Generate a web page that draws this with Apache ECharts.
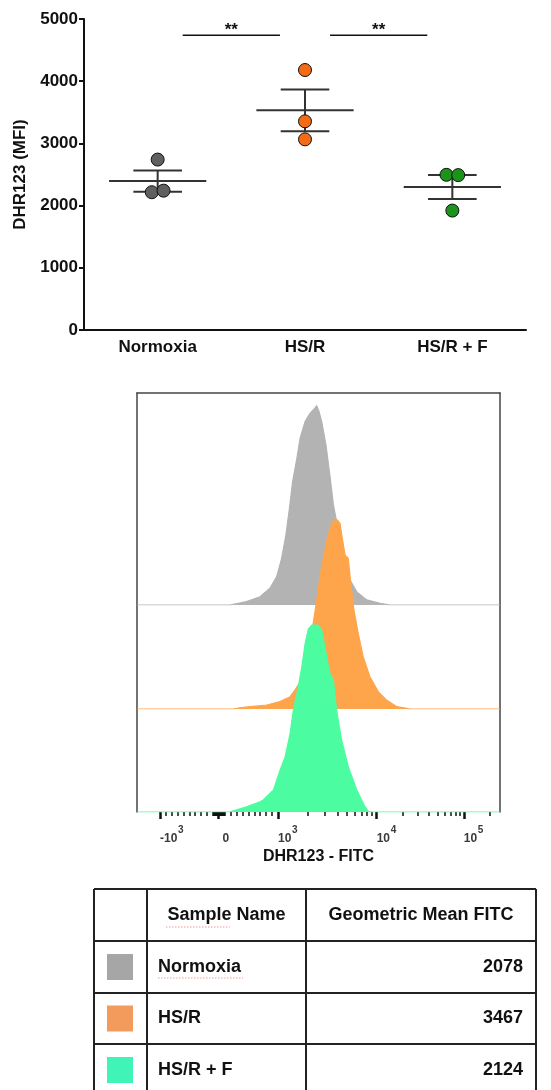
<!DOCTYPE html>
<html>
<head>
<meta charset="utf-8">
<script src="https://cdn.jsdelivr.net/npm/echarts@6/dist/echarts.min.js"></script>
<style>
  html, body { margin: 0; padding: 0; background: #fff; }
  #main { width: 551px; height: 1090px; }
</style>
</head>
<body>
<div id="main"></div>
<script>
// groups
var groups = ['Normoxia', 'HS/R', 'HS/R + F'];
// replicate MFI values per group
var normoxiaPts = [2740, 2215, 2240];
var hsrPts = [4180, 3355, 3065];
var hsrfPts = [2495, 2490, 1920];
// horizontal scatter of the dots inside each group (fraction of a category)
var jitter = [[0, -0.04, 0.04], [0, 0, 0], [-0.04, 0.04, 0]];
var means = [2395, 3532, 2300];
var sems = [171, 335, 193];
var sigPairs = [[0, 1], [1, 2]];
var sigLabels = ['**', '**'];
var sigLevel = 4740;
var dotColors = ['#606060', '#f26b15', '#1c941c'];

// histograms, x = display channel (0..1024), y = % of mode
var grayHist = [[0, 0], [262, 0], [267, 0.3], [309, 1.6], [347, 3.9], [375, 7.9], [394, 13.4], [408, 22], [420, 33], [430, 45.6], [439, 58.2], [451, 69.2], [460, 78.6], [474, 86.5], [488, 90.4], [500, 92.5], [507, 94], [514, 91], [521, 86.5], [533, 75.5], [544, 61.3], [554, 47.2], [573, 30.7], [587, 18.9], [601, 11.8], [620, 6.2], [648, 2.4], [686, 0.8], [714, 0], [1024, 0]];
var orangeHist = [[0, 0], [272, 0], [290, 0.6], [319, 1.1], [366, 1.9], [403, 3.5], [432, 5.8], [446, 9], [460, 12.7], [474, 19.3], [488, 30.2], [497, 40.4], [507, 51.4], [516, 62.4], [528, 73.4], [540, 82.8], [552, 88.4], [559, 89.6], [566, 89], [573, 87.5], [580, 79.6], [587, 72.6], [596, 71], [603, 59.3], [612, 46.7], [624, 35.7], [638, 24.7], [657, 15.2], [681, 8.1], [704, 4.2], [733, 1.1], [761, 0.3], [770, 0], [1024, 0]];
var greenHist = [[0, 0], [262, 0], [281, 1], [309, 2.5], [347, 4.8], [356, 5.7], [385, 10.4], [403, 19.5], [418, 26.1], [432, 37.1], [441, 48.1], [455, 59.1], [465, 68.5], [474, 79.2], [483, 86.2], [493, 88.2], [511, 88.2], [521, 85.8], [535, 73.3], [544, 65.4], [554, 62.3], [563, 48.1], [577, 34], [596, 21.4], [620, 10.4], [643, 2.5], [653, 0.2], [663, 0], [1024, 0]];
var histColors = ['#b3b3b3', '#fea54c', '#4cfca0'];

// biexponential display: channel of each labelled value
var anchorVals = [-1000, 0, 1000, 10000, 100000];
var anchorChan = [65, 230, 398, 676, 922];

// table
var geoMeans = [2078, 3467, 2124];
var swatchColors = ['#a6a6a6', '#f29b5d', '#40f4b8'];

var FONT = 'Liberation Sans, Arial, sans-serif';

function toChan(v) {
  if (Math.abs(v) < 1000) {
    var half = v >= 0 ? anchorChan[2] - anchorChan[1] : anchorChan[1] - anchorChan[0];
    return anchorChan[1] + v / 1000 * half;
  }
  if (v <= -1000) return anchorChan[0];
  var n = Math.floor(Math.log10(v) + 1e-9);
  var i = n - 1;
  var span = i + 1 < anchorChan.length ? anchorChan[i + 1] - anchorChan[i] : anchorChan[i] - anchorChan[i - 1];
  return anchorChan[i] + (Math.log10(v) - n) * span;
}

var majorChan = anchorVals.map(toChan);
var minorChan = [];
for (var k = 1; k <= 9; k++) {
  minorChan.push(toChan(k * 10), toChan(-k * 10), toChan(k * 100), toChan(-k * 100));
  if (k >= 2) minorChan.push(toChan(k * 1000), toChan(k * 10000));
}
minorChan.push(toChan(200000));

// exponent on a first line (shifted right), mantissa below it
function majorLabel(value) {
  var best = 0;
  for (var i = 1; i < majorChan.length; i++) {
    if (Math.abs(majorChan[i] - value) < Math.abs(majorChan[best] - value)) best = i;
  }
  var v = anchorVals[best];
  if (v === 0) return '{s0| }\n{z|0}';
  var e = Math.round(Math.log10(Math.abs(v)));
  return v < 0 ? '{sn|' + e + '}\n{b|-10}' : '{sp|' + e + '}\n{b|10}';
}

var pts = [normoxiaPts, hsrPts, hsrfPts];
var scatterSeries = pts.map(function (arr, gi) {
  return {
    type: 'scatter',
    xAxisIndex: 1, yAxisIndex: 0,
    symbolSize: 13,
    z: 5,
    itemStyle: { color: dotColors[gi], borderColor: '#111', borderWidth: 1, opacity: 1 },
    data: arr.map(function (v, j) { return [gi + jitter[gi][j], v]; })
  };
});

function renderMean(params, api) {
  var g = api.value(0), m = api.value(1), s = api.value(2);
  var l = api.coord([g - 0.33, m]), r = api.coord([g + 0.33, m]);
  var top = api.coord([g, m + s]), bot = api.coord([g, m - s]);
  var cl = api.coord([g - 0.165, m])[0], cr = api.coord([g + 0.165, m])[0];
  var st = { stroke: '#333', lineWidth: 2 };
  return {
    type: 'group', children: [
      { type: 'line', shape: { x1: l[0], y1: l[1], x2: r[0], y2: r[1] }, style: st },
      { type: 'line', shape: { x1: top[0], y1: top[1], x2: bot[0], y2: bot[1] }, style: st },
      { type: 'line', shape: { x1: cl, y1: top[1], x2: cr, y2: top[1] }, style: st },
      { type: 'line', shape: { x1: cl, y1: bot[1], x2: cr, y2: bot[1] }, style: st }
    ]
  };
}

function renderSig(params, api) {
  var a = api.value(0), b = api.value(1), lev = api.value(2);
  var p1 = api.coord([a + 0.17, lev]), p2 = api.coord([b - 0.17, lev]);
  return {
    type: 'group', children: [
      { type: 'line', shape: { x1: p1[0], y1: p1[1], x2: p2[0], y2: p2[1] }, style: { stroke: '#111', lineWidth: 1.5 } },
      {
        type: 'text', x: (p1[0] + p2[0]) / 2, y: p1[1] - 5,
        style: { text: sigLabels[params.dataIndex], fill: '#111', font: 'bold 17px ' + FONT, align: 'center', verticalAlign: 'middle' }
      }
    ]
  };
}

function histSeries(data, xi, yi, color, z) {
  return {
    type: 'line', xAxisIndex: xi, yAxisIndex: yi,
    data: data, showSymbol: false, silent: true, z: z,
    lineStyle: { color: color, width: 1.2 },
    areaStyle: { color: color, opacity: 1 }
  };
}

var hiddenX = function (gi) { return { gridIndex: gi, type: 'value', min: 0, max: 1024, show: false }; };
var hiddenY = function (gi) { return { gridIndex: gi, type: 'value', min: 0, max: 100, show: false }; };
var boxLine = { show: true, onZero: false, lineStyle: { color: '#444', width: 1.5 } };
var tickText = { fontSize: 12, fontWeight: 'bold', color: '#3a3a3a', fontFamily: FONT };
var supText = { fontSize: 10, fontWeight: 'bold', color: '#3a3a3a', fontFamily: FONT, lineHeight: 4 };

// table drawing
var tX = [94, 147, 306, 536];
var tY = [889, 941, 993, 1044, 1096];
var tableEls = [];
tX.forEach(function (x) {
  tableEls.push({ type: 'line', shape: { x1: x, y1: tY[0], x2: x, y2: tY[tY.length - 1] }, style: { stroke: '#222', lineWidth: 2 } });
});
tY.forEach(function (y) {
  tableEls.push({ type: 'line', shape: { x1: tX[0], y1: y, x2: tX[3], y2: y }, style: { stroke: '#222', lineWidth: 2 } });
});
var hy = (tY[0] + tY[1]) / 2;
tableEls.push({ type: 'text', x: (tX[1] + tX[2]) / 2, y: hy, style: { text: 'Sample Name', font: 'bold 18px ' + FONT, fill: '#111', align: 'center', verticalAlign: 'middle' } });
tableEls.push({ type: 'text', x: (tX[2] + tX[3]) / 2, y: hy, style: { text: 'Geometric Mean FITC', font: 'bold 18px ' + FONT, fill: '#111', align: 'center', verticalAlign: 'middle' } });
// spell-check squiggles
tableEls.push({ type: 'line', shape: { x1: 166, y1: hy + 12, x2: 230, y2: hy + 12 }, style: { stroke: '#f09a9a', lineWidth: 1, lineDash: [1.5, 1.5] } });
groups.forEach(function (g, i) {
  var cy = (tY[i + 1] + tY[i + 2]) / 2;
  tableEls.push({ type: 'rect', shape: { x: 107, y: cy - 13, width: 26, height: 26 }, style: { fill: swatchColors[i] } });
  tableEls.push({ type: 'text', x: 158, y: cy, style: { text: g, font: 'bold 18px ' + FONT, fill: '#111', align: 'left', verticalAlign: 'middle' } });
  tableEls.push({ type: 'text', x: 523, y: cy, style: { text: String(geoMeans[i]), font: 'bold 18px ' + FONT, fill: '#111', align: 'right', verticalAlign: 'middle' } });
  if (i === 0) {
    tableEls.push({ type: 'line', shape: { x1: 158, y1: cy + 11, x2: 243, y2: cy + 11 }, style: { stroke: '#f09a9a', lineWidth: 1, lineDash: [1.5, 1.5] } });
  }
});

var chart = echarts.init(document.getElementById('main'));
var option = {
  animation: false,
  backgroundColor: '#fff',
  textStyle: { fontFamily: FONT },
  grid: [
    { left: 84, top: 19, width: 442, height: 311 },
    { left: 137, top: 393, width: 363, height: 419 },
    { left: 137, top: 393, width: 363, height: 212 },
    { left: 137, top: 497, width: 363, height: 212 },
    { left: 137, top: 600, width: 363, height: 212 }
  ],
  xAxis: [
    {
      gridIndex: 0, type: 'category', data: groups,
      axisLine: { onZero: false, lineStyle: { color: '#111', width: 2 } },
      axisTick: { alignWithLabel: true, length: 5, lineStyle: { color: '#111', width: 2 } },
      axisLabel: { color: '#111', fontWeight: 'bold', fontSize: 17, margin: 9, fontFamily: FONT }
    },
    { gridIndex: 0, type: 'value', min: -0.5, max: 2.5, show: false },
    {
      gridIndex: 1, type: 'value', min: 0, max: 1024, position: 'bottom',
      axisLine: { show: false, onZero: false }, splitLine: { show: false }, axisLabel: { show: false },
      axisTick: { show: true, customValues: minorChan, length: 4, lineStyle: { color: '#111', width: 1.5 } }
    },
    {
      gridIndex: 1, type: 'value', min: 0, max: 1024, position: 'top',
      axisLine: boxLine, axisTick: { show: false }, axisLabel: { show: false }, splitLine: { show: false }
    },
    hiddenX(2), hiddenX(3),
    {
      gridIndex: 4, type: 'value', min: 0, max: 1024, position: 'bottom',
      name: 'DHR123 - FITC', nameLocation: 'middle', nameGap: 37,
      nameTextStyle: { color: '#111', fontWeight: 'bold', fontSize: 16, fontFamily: FONT },
      axisLine: { show: false, onZero: false }, splitLine: { show: false },
      axisTick: { show: true, customValues: majorChan, length: 7, lineStyle: { color: '#111', width: 2.5 } },
      axisLabel: {
        customValues: majorChan, formatter: majorLabel, align: 'left', margin: 16,
        rich: {
          b: Object.assign({ lineHeight: 13 }, tickText),
          z: Object.assign({ lineHeight: 13, padding: [0, 0, 0, 4] }, tickText),
          sp: Object.assign({ padding: [0, 0, 0, 14] }, supText),
          sn: Object.assign({ padding: [0, 0, 0, 18] }, supText),
          s0: supText
        }
      }
    }
  ],
  yAxis: [
    {
      gridIndex: 0, type: 'value', min: 0, max: 5000, interval: 1000,
      name: 'DHR123 (MFI)', nameLocation: 'middle', nameGap: 42,
      nameTextStyle: { color: '#111', fontWeight: 'bold', fontSize: 17, fontFamily: FONT },
      axisLine: { show: true, onZero: false, lineStyle: { color: '#111', width: 2 } },
      axisTick: { show: true, length: 5, lineStyle: { color: '#111', width: 2 } },
      axisLabel: { color: '#111', fontWeight: 'bold', fontSize: 17, margin: 6, fontFamily: FONT, formatter: function (v) { return String(v); } },
      splitLine: { show: false }
    },
    {
      gridIndex: 1, type: 'value', min: 0, max: 1, position: 'left',
      axisLine: boxLine, axisTick: { show: false }, axisLabel: { show: false }, splitLine: { show: false }
    },
    {
      gridIndex: 1, type: 'value', min: 0, max: 1, position: 'right',
      axisLine: boxLine, axisTick: { show: false }, axisLabel: { show: false }, splitLine: { show: false }
    },
    hiddenY(2), hiddenY(3), hiddenY(4)
  ],
  series: scatterSeries.concat([
    {
      type: 'custom', xAxisIndex: 1, yAxisIndex: 0, z: 3,
      renderItem: renderMean,
      encode: { x: 0, y: 1 },
      data: means.map(function (m, i) { return [i, m, sems[i]]; })
    },
    {
      type: 'custom', xAxisIndex: 1, yAxisIndex: 0, z: 3,
      renderItem: renderSig,
      encode: { x: 0, y: 2 },
      data: sigPairs.map(function (p) { return [p[0], p[1], sigLevel]; })
    },
    histSeries(grayHist, 4, 3, histColors[0], 2),
    histSeries(orangeHist, 5, 4, histColors[1], 3),
    histSeries(greenHist, 6, 5, histColors[2], 4)
  ]),
  graphic: tableEls
};
chart.setOption(option);
</script>
</body>
</html>
